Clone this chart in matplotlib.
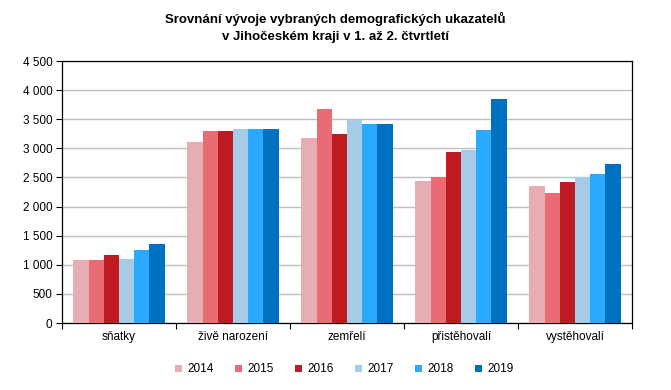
import matplotlib.pyplot as plt
import numpy as np
from matplotlib.ticker import FuncFormatter, FixedLocator
from matplotlib.patches import Patch

plt.rcParams['font.family'] = ['Liberation Sans', 'DejaVu Sans']

# data
categories = ["sňatky", "živě narození", "zemřelí", "přistěhovalí", "vystěhovalí"]
years = ["2014", "2015", "2016", "2017", "2018", "2019"]
v2014 = [1086, 3110, 3179, 2441, 2356]
v2015 = [1086, 3299, 3676, 2510, 2236]
v2016 = [1172, 3299, 3248, 2939, 2424]
v2017 = [1103, 3333, 3493, 2973, 2504]
v2018 = [1258, 3333, 3419, 3316, 2561]
v2019 = [1361, 3333, 3419, 3848, 2733]
series = [v2014, v2015, v2016, v2017, v2018, v2019]
colors = ['#E6AEB2', '#E96B73', '#BE1B22', '#A5CBE6', '#29A9FF', '#0070C0']

fig = plt.figure(figsize=(6.71, 3.9), dpi=100)
ax = fig.add_axes([62/671, 67/390, 570/671, 262/390])

x = np.arange(len(categories))
w = 0.8 / len(years)
for i, (vals, c) in enumerate(zip(series, colors)):
    ax.bar(x - 0.4 + w * (i + 0.5), vals, width=w, color=c, zorder=3, linewidth=0)

ax.set_xlim(-0.5, len(categories) - 0.5)
ax.set_ylim(0, 4500)
ax.set_yticks(np.arange(0, 4501, 500))
ax.yaxis.set_major_formatter(FuncFormatter(lambda v, p: f"{int(v):,}".replace(",", " ")))
ax.grid(axis='y', color='#BFBFBF', linewidth=1, zorder=0)

# category labels centered, ticks at boundaries
ax.set_xticks(x)
ax.set_xticklabels(categories, fontsize=8.5)
ax.tick_params(axis='x', length=0, pad=6)
ax.xaxis.set_minor_locator(FixedLocator(np.arange(-0.5, len(categories), 1)))
ax.tick_params(axis='x', which='minor', length=4, width=0.8, direction='out')
ax.tick_params(axis='y', length=4, width=0.8, direction='out', labelsize=8.5, pad=3)

for s in ax.spines.values():
    s.set_linewidth(0.9)
    s.set_color('black')

fig.suptitle("Srovnání vývoje vybraných demografických ukazatelů\nv Jihočeském kraji v 1. až 2. čtvrtletí",
             x=0.5, y=0.97, fontsize=9.5, fontweight='bold', linespacing=1.55)

handles = [Patch(facecolor=c, edgecolor='none') for c in colors]
fig.legend(handles, years, loc='center', bbox_to_anchor=(0.513, 0.053), ncol=6, frameon=False,
           fontsize=8.5, handlelength=0.55, handleheight=0.55, handletextpad=0.45, columnspacing=1.85)

fig.savefig("out.png", dpi=100)
